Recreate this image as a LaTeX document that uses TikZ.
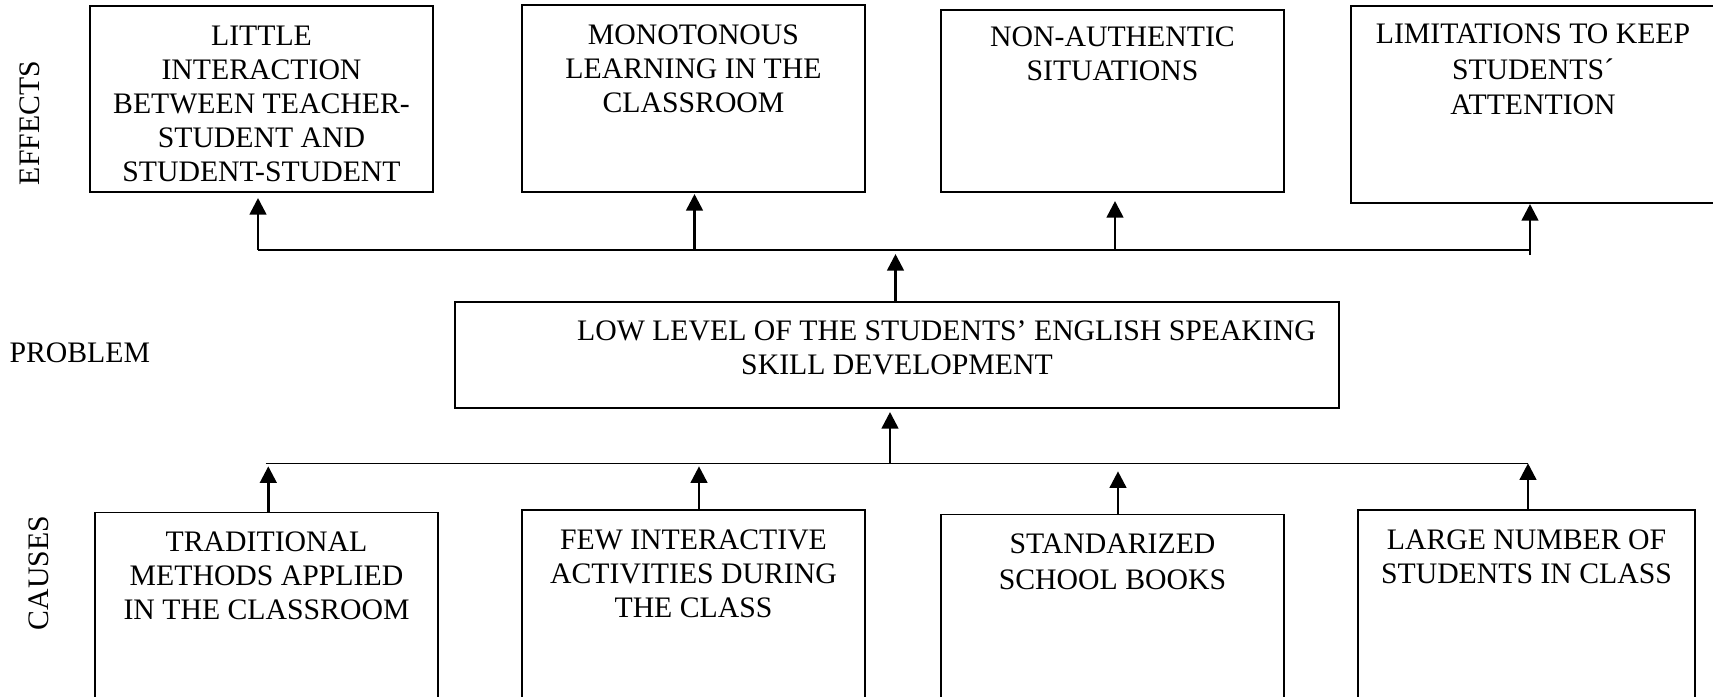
\documentclass[tikz,border=0pt]{standalone}
\usepackage{fontspec}
\setmainfont{Liberation Serif}
\usetikzlibrary{arrows.meta,fit}
\begin{document}
\begin{tikzpicture}[x=0.4pt,y=-0.4pt,
  box/.style={draw, line width=0.5pt, inner sep=0pt, outer sep=0pt},
  txt/.style={font=\fontsize{11.9pt}{13.6pt}\selectfont, align=center, inner sep=0pt, anchor=north},
  side/.style={font=\fontsize{11.9pt}{13.6pt}\selectfont, inner sep=0pt},
  arr/.style={line width=1.05pt, -{Triangle[length=6.6pt,width=6.6pt]}},
  rail/.style={line width=0.55pt}]
\useasboundingbox (0,0) rectangle (1713,696);

% row labels
\node[side, rotate=90] (lblE) at (30,123) {EFFECTS};
\node[side, anchor=west] (lblP) at (9,353) {PROBLEM};
\node[side, rotate=90] (lblC) at (39,573) {CAUSES};

% effects
\node[box, fit={(90,6) (433,192)}] (e1) {};
\node[box, fit={(522,5) (865,192)}] (e2) {};
\node[box, fit={(941,10) (1284,192)}] (e3) {};
\node[box, fit={(1351,6) (1715,203)}] (e4) {};
\node[txt] (e1t) at (261.5,25.5) {LITTLE\\INTERACTION\\BETWEEN TEACHER-\\STUDENT AND\\STUDENT-STUDENT};
\node[txt] (e2t) at (693.5,24.5) {MONOTONOUS\\LEARNING IN THE\\CLASSROOM};
\node[txt] (e3t) at (1112.5,26.5) {NON-AUTHENTIC\\SITUATIONS};
\node[txt, font=\fontsize{11.9pt}{14.2pt}\selectfont] (e4t) at (1533,23.5) {LIMITATIONS TO KEEP\\STUDENTS´\\ATTENTION};

% problem
\node[box, fit={(455,302) (1339,408)}] (p) {};
\node[txt] (pt) at (897,320.5) {\hspace*{39.6pt}LOW LEVEL OF THE STUDENTS’ ENGLISH SPEAKING\\SKILL DEVELOPMENT};

% causes
\node[box, fit={(95,512.5) (438,710)}] (c1) {};
\node[box, fit={(522,510) (865,710)}] (c2) {};
\node[box, fit={(941,514.5) (1284,710)}] (c3) {};
\node[box, fit={(1358,510) (1695,710)}] (c4) {};
\node[txt] (c1t) at (266.5,531.5) {TRADITIONAL\\METHODS APPLIED\\IN THE CLASSROOM};
\node[txt] (c2t) at (693.5,529) {FEW INTERACTIVE\\ACTIVITIES DURING\\THE CLASS};
\node[txt, font=\fontsize{11.9pt}{14.2pt}\selectfont] (c3t) at (1112.5,533.5) {STANDARIZED\\SCHOOL BOOKS};
\node[txt] (c4t) at (1526.5,529) {LARGE NUMBER OF\\STUDENTS IN CLASS};

% upper rail and arrows to the effects
\coordinate (uL) at (258,250);
\coordinate (uR) at (1530,250);
\coordinate (u2) at (694.5,250);
\coordinate (u3) at (1115,250);
\coordinate (u4) at (1530,255);
\draw[rail] (uL) -- (uR);
\draw[arr, shorten >=2.4pt] (uL) -- (uL |- e1.south);
\draw[arr, shorten >=0.8pt] (u2) -- (u2 |- e2.south);
\draw[arr, shorten >=3.6pt] (u3) -- (u3 |- e3.south);
\draw[arr, shorten >=0.4pt] (u4) -- (u4 |- e4.south);

% problem to upper rail
\coordinate (pu) at (895.5,250);
\draw[arr, shorten >=1.6pt] (pu |- p.north) -- (pu);

% lower rail and arrows from the causes
\coordinate (lL) at (265.5,463.3);
\coordinate (lR) at (1528,463.3);
\coordinate (l1) at (268.3,463.3);
\coordinate (l2) at (699,463.3);
\coordinate (l3) at (1118,463.3);
\coordinate (pl) at (890,463.3);
\draw[rail] (lL) -- (lR);
\draw[arr, shorten >=1.6pt] (pl) -- (pl |- p.south);
\draw[arr, shorten >=1.2pt] (l1 |- c1.north) -- (l1);
\draw[arr, shorten >=1.2pt] (l2 |- c2.north) -- (l2);
\draw[arr, shorten >=3.2pt] (l3 |- c3.north) -- (l3);
\draw[arr] (lR |- c4.north) -- (lR);
\end{tikzpicture}
\end{document}
